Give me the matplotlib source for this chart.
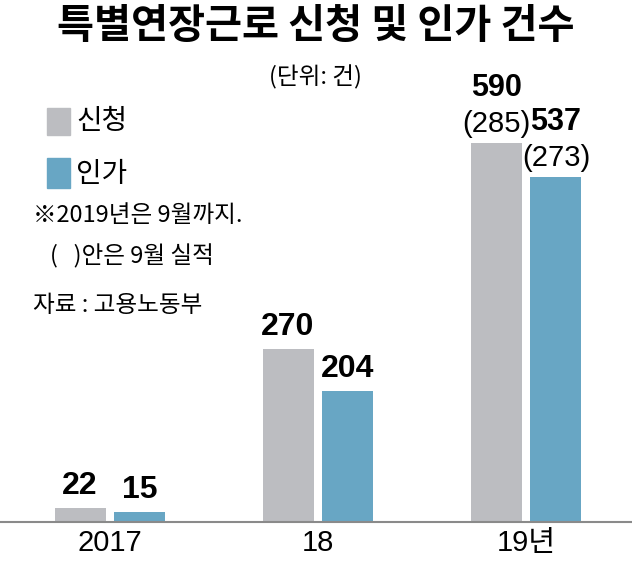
import matplotlib
matplotlib.use('Agg')
import matplotlib.pyplot as plt
from matplotlib.patches import Rectangle

years = ['2017', '18', '19년']
applied = [22, 270, 590]
approved = [15, 204, 537]
# September-only figures shown in parentheses (2019 only)
applied_sep = [None, None, 285]
approved_sep = [None, None, 273]

gray = '#bcbdc1'
blue = '#68a6c4'

num_font = 'Liberation Sans'
kr = ['Noto Sans CJK KR', 'DejaVu Sans']
plt.rcParams['font.family'] = kr

fig = plt.figure(figsize=(6.32, 5.68), dpi=100)
ax = fig.add_axes([0, 46 / 568, 1, 522 / 568])

x = range(len(years))
w = 0.245
off = 0.144
ax.bar([i - off for i in x], applied, width=w, color=gray)
ax.bar([i + off for i in x], approved, width=w, color=blue)


def label(xpos, val, sep):
    base, size = 5, 23
    if sep is not None:
        ax.annotate(f'({sep})', (xpos, val), xytext=(0, 4), textcoords='offset points',
                    ha='center', va='bottom', fontsize=21, family=num_font)
        base, size = 29, 22
    ax.annotate(str(val), (xpos, val), xytext=(0, base), textcoords='offset points',
                ha='center', va='bottom', fontsize=size, fontweight='bold', family=num_font)


for i in x:
    label(i - off, applied[i], applied_sep[i])
    label(i + off, approved[i], approved_sep[i])

ax.set_xlim(-110 / 208, 522 / 208)
ax.set_ylim(0, 813)
for s in ['top', 'right', 'left']:
    ax.spines[s].set_visible(False)
ax.spines['bottom'].set_color('#8a8a8a')
ax.spines['bottom'].set_linewidth(1.5)
ax.set_yticks([])
ax.set_xticks(list(x))
ax.set_xticklabels(years, fontsize=21, family=[num_font, 'Noto Sans CJK KR'])
ax.tick_params(axis='x', length=0, pad=5)

# title and notes
fig.text(0.5, 1 - 26 / 568, '특별연장근로 신청 및 인가 건수', ha='center', va='center',
         fontsize=29, fontweight='bold')
fig.text(315 / 632, 1 - 77 / 568, '(단위: 건)', ha='center', va='center', fontsize=17)

fig.patches.append(Rectangle((47 / 632, 1 - 135 / 568), 23 / 632, 27 / 568,
                             transform=fig.transFigure, color=gray))
fig.patches.append(Rectangle((47 / 632, 1 - 188 / 568), 23 / 632, 30 / 568,
                             transform=fig.transFigure, color=blue))
fig.text(76 / 632, 1 - 121 / 568, '신청', ha='left', va='center', fontsize=20)
fig.text(76 / 632, 1 - 174 / 568, '인가', ha='left', va='center', fontsize=20)
fig.text(33 / 632, 1 - 215 / 568, '※2019년은 9월까지.', ha='left', va='center', fontsize=17)
fig.text(50 / 632, 1 - 256 / 568, '(   )안은 9월 실적', ha='left', va='center', fontsize=17)
fig.text(33 / 632, 1 - 305 / 568, '자료 : 고용노동부', ha='left', va='center', fontsize=17)

fig.savefig('out.png', dpi=100)
